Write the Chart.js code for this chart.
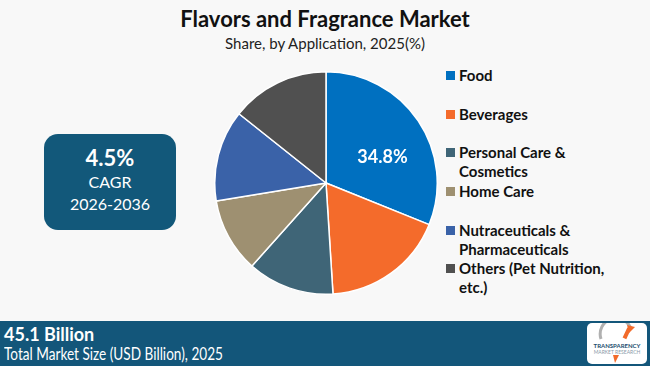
<!DOCTYPE html>
<html>
<head>
<meta charset="utf-8">
<script src="https://cdn.jsdelivr.net/npm/chart.js@4.4.1/dist/chart.umd.min.js"></script>
<style>
    body { margin: 0; width: 650px; height: 366px; background: #f8f8f8; position: relative; overflow: hidden; font-family: Lato, "Open Sans", sans-serif; }
    .titulo { position: absolute; left: 0; width: 650px; top: 5px; text-align: center; font-weight: bold; font-size: 22px; color: #111; }
    .subtitulo { position: absolute; left: 0; width: 650px; top: 34px; text-align: center; font-size: 15px; color: #222; }
    .grafico { position: absolute; left: 214px; top: 71px; width: 224px; height: 224px; }
    .cagr { position: absolute; left: 44px; top: 134px; width: 132px; height: 96px; background: #12587a; border-radius: 14px; color: #fff; text-align: center; }
    .cagr .valor { font-weight: bold; font-size: 22px; margin-top: 10px; }
    .cagr .txt { font-size: 16px; line-height: 22px; }
    .legenda { position: absolute; left: 446px; top: 66px; }
    .item { position: absolute; left: 0; font-weight: bold; font-size: 15px; color: #111; line-height: 19px; white-space: nowrap; }
    .item .quad { position: absolute; left: 0; top: 5px; width: 9px; height: 9px; }
    .item span { position: absolute; left: 13px; top: 0; }
    .rodape { position: absolute; left: 0; top: 321px; width: 650px; height: 45px; background: #13567a; color: #fff; }
    .rodape .grande { position: absolute; left: 4px; top: 2px; font-weight: bold; font-size: 18px; }
    .rodape .pequeno { position: absolute; left: 4px; top: 22px; font-size: 17px; white-space: nowrap; transform: scaleX(0.8); transform-origin: left top; }
    .logo { position: absolute; left: 587px; top: 2px; width: 60px; height: 41px; background: #fff; border-radius: 5px; text-align: center; font-size: 5px; font-weight: bold; color: #1a4d6e; }
</style>
</head>
<body>
<div class="titulo">Flavors and Fragrance Market</div>
<div class="subtitulo">Share, by Application, 2025(%)</div>

<div class="cagr">
    <div class="valor">4.5%</div>
    <div class="txt">CAGR</div>
    <div class="txt">2026-2036</div>
</div>

<div class="grafico"><canvas id="graficoPizza"></canvas></div>
<div class="legenda" id="legenda"></div>

<div class="rodape">
    <div class="grande">45.1 Billion</div>
    <div class="pequeno">Total Market Size (USD Billion), 2025</div>
    <div class="logo">
        <svg width="60" height="18" viewBox="0 0 60 18"><path d="M14 16 A14 14 0 0 1 44 6" stroke="#b0b0b0" stroke-width="3" fill="none"/><path d="M40 2 L48 4 L42 10 Z" fill="#f26b2b"/><rect x="38" y="5" width="4" height="11" fill="#f26b2b" transform="rotate(25 40 10)"/></svg>
        <div style="font-size:6px;line-height:7px">TRANSPARENCY</div>
        <div style="font-size:5px;line-height:6px;color:#8a9aa8;font-weight:normal">MARKET RESEARCH</div>
        <svg width="60" height="8" viewBox="0 0 60 8"><path d="M26 0 L32 0 L28 8 Z" fill="#f26b2b"/></svg>
    </div>
</div>

<script>
    // dados
    const categorias = [
        ['Food'],
        ['Beverages'],
        ['Personal Care &', 'Cosmetics'],
        ['Home Care'],
        ['Nutraceuticals &', 'Pharmaceuticals'],
        ['Others (Pet Nutrition,', 'etc.)']
    ];
    const valores = [31.1, 17.9, 12.6, 10.8, 13.3, 14.3];
    const rotulos = ['34.8%', '', '', '', '', ''];
    const cores = ['#0070c0', '#f46b2b', '#3f6577', '#9e9071', '#3a62a8', '#505050'];
    const posLegenda = [0, 39, 77, 116, 155, 193];

    let legenda = document.getElementById('legenda');
    for (let i = 0; i < categorias.length; i++) {
        legenda.innerHTML += `
        <div class="item" style="top:${posLegenda[i]}px">
            <div class="quad" style="background:${cores[i]}"></div>
            <span>${categorias[i].join('<br>')}</span>
        </div>`;
    }

    const pluginRotulo = {
        id: 'rotulo',
        afterDatasetsDraw(chart) {
            const ctx = chart.ctx;
            const arcos = chart.getDatasetMeta(0).data;
            ctx.save();
            ctx.fillStyle = '#fff';
            ctx.font = 'bold 18px Lato, "Open Sans", sans-serif';
            ctx.textAlign = 'center';
            ctx.textBaseline = 'middle';
            arcos.forEach(function (arco, i) {
                if (!rotulos[i]) return;
                const meio = (arco.startAngle + arco.endAngle) / 2 + 0.16;
                const r = arco.outerRadius * 0.56;
                ctx.fillText(rotulos[i], arco.x + Math.cos(meio) * r, arco.y + Math.sin(meio) * r);
            });
            ctx.restore();
        }
    };

    new Chart(document.getElementById('graficoPizza'), {
        type: 'pie',
        data: {
            labels: categorias.map(c => c.join(' ')),
            datasets: [{
                data: valores,
                backgroundColor: cores,
                borderColor: '#ffffff',
                borderWidth: 1.5
            }]
        },
        options: {
            responsive: true,
            maintainAspectRatio: false,
            animation: false,
            layout: { padding: 0 },
            plugins: {
                legend: { display: false },
                tooltip: { enabled: false }
            }
        },
        plugins: [pluginRotulo]
    });
</script>
</body>
</html>
